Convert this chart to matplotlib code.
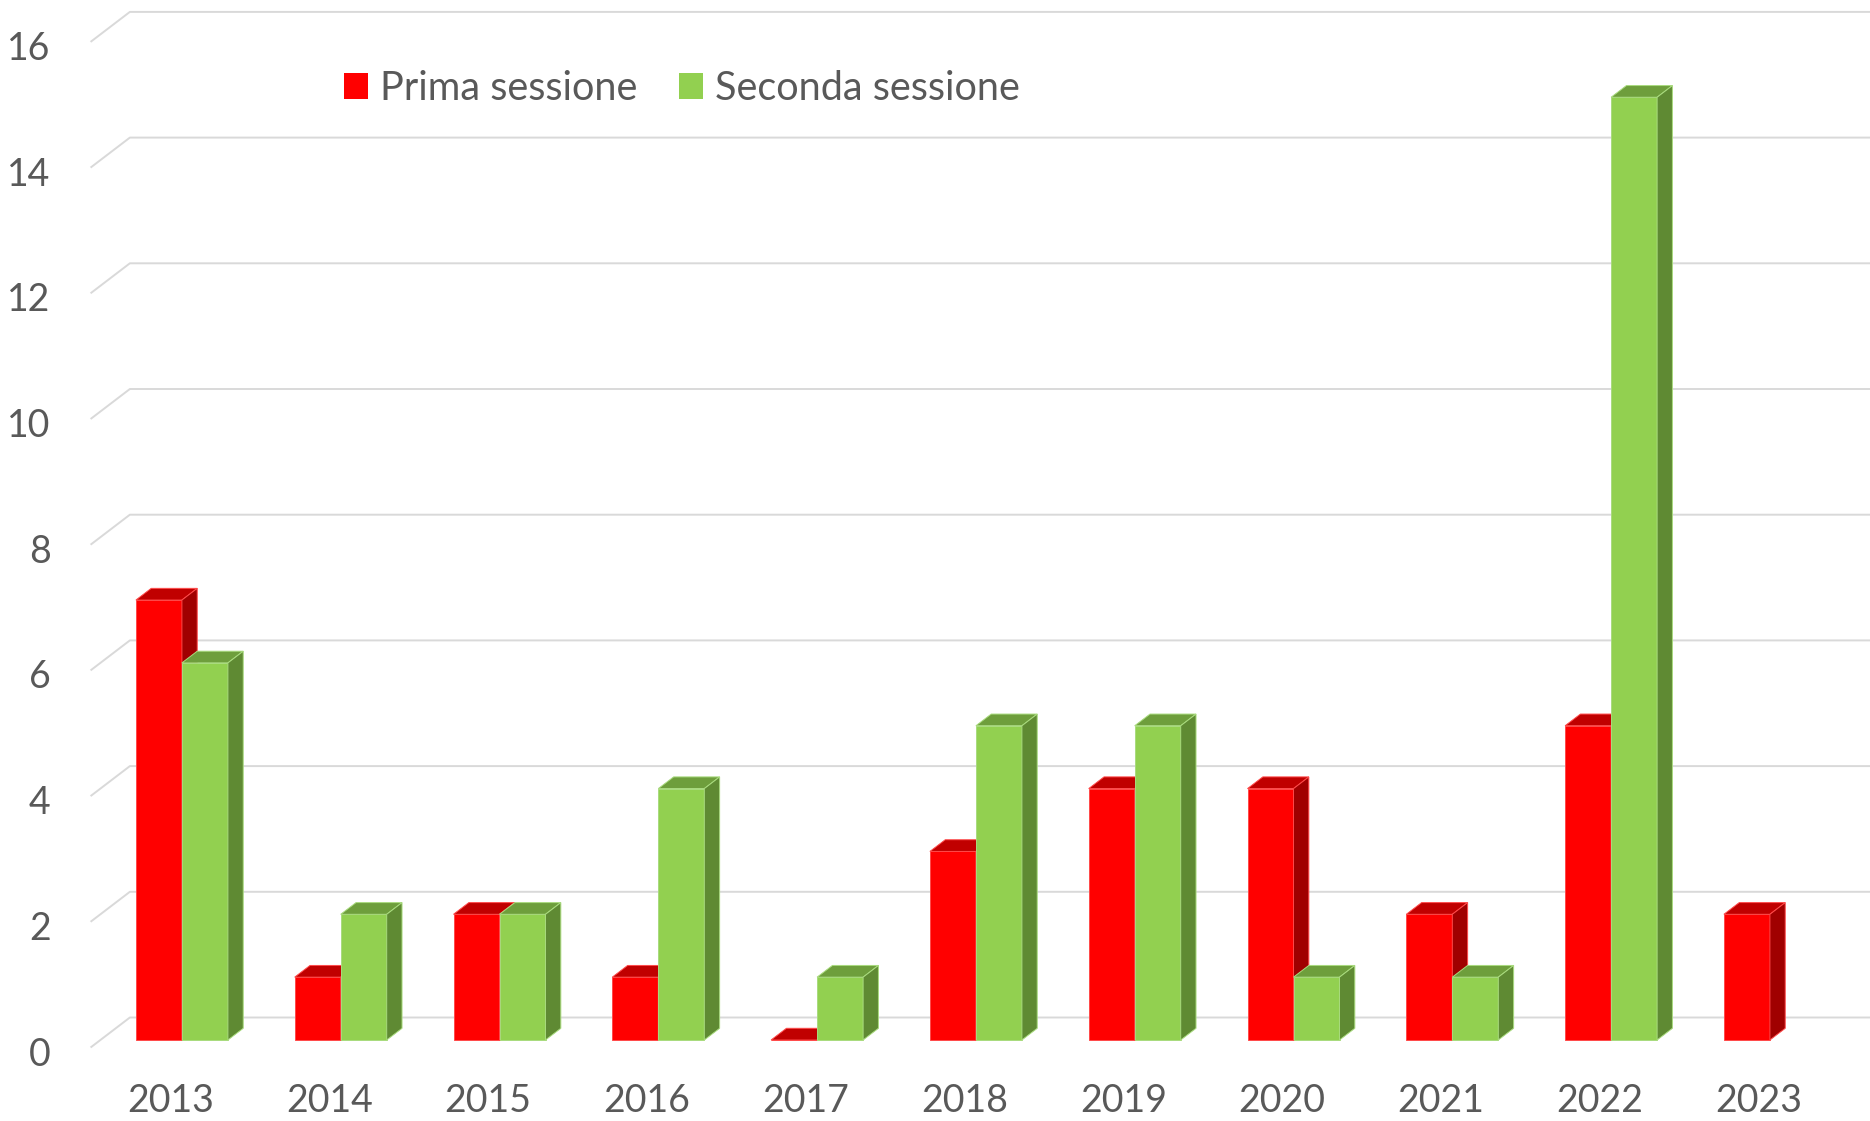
import numpy as np
import matplotlib
matplotlib.use("Agg")
import matplotlib.pyplot as plt
from matplotlib.patches import Polygon, Patch

# ---------------- data ----------------
years = ["2013", "2014", "2015", "2016", "2017", "2018", "2019", "2020", "2021", "2022", "2023"]
prima = [7, 1, 2, 1, 0, 3, 4, 4, 2, 5, 2]
seconda = [6, 2, 2, 4, 1, 5, 5, 1, 1, 15, np.nan]
series_names = ["Prima sessione", "Seconda sessione"]
yticks = [0, 2, 4, 6, 8, 10, 12, 14, 16]

# ---------------- style ----------------
plt.rcParams['font.family'] = ['Lato', 'DejaVu Sans']
TXT = "#595959"
GRID = "#D9D9D9"
front_cols = ["#FF0000", "#92D050"]
top_cols = ["#C00000", "#6E9E3C"]
side_cols = ["#A00000", "#5F8A33"]
edge_cols = ["#FF4A4A", "#A9DB7E"]

W_PX, H_PX = 1870, 1121
fig = plt.figure(figsize=(W_PX / 100, H_PX / 100), dpi=100)
ax = fig.add_axes([0, 0, 1, 1])
ax.set_axis_off()

# pixel scale of the front plane
CAT_PX = 158.8      # px per category
VAL_PX = 62.85      # px per unit value
X0_PX = 181.9       # px of first category centre
Y0_PX = 1040.0      # px of value 0 (bar front plane)
ax.set_xlim((0 - X0_PX) / CAT_PX, (W_PX - X0_PX) / CAT_PX)
ax.set_ylim((Y0_PX - H_PX) / VAL_PX, Y0_PX / VAL_PX)

SLOPE = 1.31  # px of x shift per px of upward depth shift


def depth(d_px):
    """Offset in data units for a depth of d_px pixels (upward)."""
    return SLOPE * d_px / CAT_PX, d_px / VAL_PX


bar_w = 46.0 / CAT_PX
bdx, bdy = depth(11.7)      # bar depth
wdx, wdy = depth(22.5)      # back wall
fdx, fdy = depth(-7.5)      # front floor edge
wall_x = (100.4 - X0_PX) / CAT_PX
x_right = ax.get_xlim()[1] + 1

# ---------------- gridlines (walls) ----------------
for v in yticks:
    ax.plot([wall_x + fdx, wall_x + wdx, x_right], [v + fdy, v + wdy, v + wdy],
            color=GRID, lw=1.4, zorder=1, solid_capstyle='butt')
    ax.text(wall_x + fdx - 40 / CAT_PX, v + fdy - 7 / VAL_PX, str(v),
            ha='right', va='center', fontsize=27, color=TXT)

# ---------------- bars ----------------
z = 2
for i in range(len(years)):
    for s, vals in enumerate([prima, seconda]):
        v = vals[i]
        if v is None or np.isnan(v):
            continue
        x0 = i + (s - 1) * bar_w
        x1 = x0 + bar_w
        front = [(x0, 0), (x1, 0), (x1, v), (x0, v)]
        top = [(x0, v), (x1, v), (x1 + bdx, v + bdy), (x0 + bdx, v + bdy)]
        side = [(x1, 0), (x1 + bdx, bdy), (x1 + bdx, v + bdy), (x1, v)]
        for pts, col in ((front, front_cols[s]), (top, top_cols[s]), (side, side_cols[s])):
            ax.add_patch(Polygon(pts, closed=True, facecolor=col, edgecolor=edge_cols[s],
                                 lw=0.7, zorder=z, joinstyle='miter'))
        z += 1

# ---------------- category labels ----------------
for i, y in enumerate(years):
    ax.text(i - 11.4 / CAT_PX, (Y0_PX - 1112.5) / VAL_PX, y,
            ha='center', va='baseline', fontsize=27, color=TXT)

# ---------------- legend ----------------
LEG_FS = 28.5
em = LEG_FS * 100 / 72
handles = [Patch(facecolor=front_cols[k], edgecolor='none') for k in range(2)]
leg = ax.legend(handles, series_names, loc='upper left',
                bbox_to_anchor=(344 / W_PX, 1 - 70 / H_PX),
                ncol=2, frameon=False, fontsize=LEG_FS,
                handlelength=24 / em, handleheight=24 / em, handletextpad=12 / em,
                columnspacing=42 / em, borderpad=0, borderaxespad=0)
for t in leg.get_texts():
    t.set_color(TXT)

fig.savefig("out.png", dpi=100)
